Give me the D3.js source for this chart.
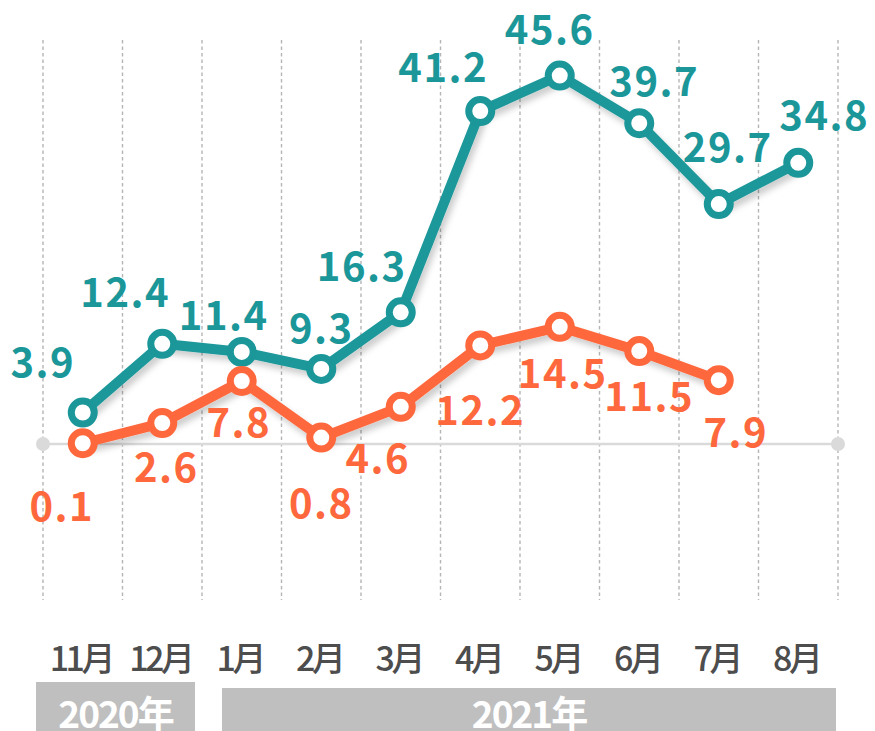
<!DOCTYPE html>
<html>
<head>
<meta charset="utf-8">
<script src="https://cdn.jsdelivr.net/npm/d3@7"></script>
<style>
  body { margin: 0; background: #fff; }
  #chart { width: 875px; height: 731px; }
  text { font-family: "Noto Sans CJK JP", "Noto Sans", sans-serif; }
</style>
</head>
<body>
<div id="chart"></div>
<script>
// data
const months = ["11月", "12月", "1月", "2月", "3月", "4月", "5月", "6月", "7月", "8月"];
const tealValues = [3.9, 12.4, 11.4, 9.3, 16.3, 41.2, 45.6, 39.7, 29.7, 34.8];
const orangeValues = [0.1, 2.6, 7.8, 0.8, 4.6, 12.2, 14.5, 11.5, 7.9];
const years = ["2020年", "2021年"];
const yearMonths = [["11月", "12月"], ["1月", "8月"]];

// label placement (offset from point, px)
const tealLabelOffset = [[-40, -36], [-37, -37], [-18, -22], [0, -26], [-39, -31],
    [-37, -29], [-10, -32], [15, -27], [9, -42], [26, -33]];
const orangeLabelOffset = [[-21, 78], [4, 59], [-3, 56], [0, 80], [-23, 66],
    [0, 80], [3, 61], [10, 60], [17, 67]];

const teal = "#1b979a";
const orange = "#ff683d";

const width = 875, height = 731;

const svg = d3.select("#chart")
    .append("svg")
    .attr("width", width)
    .attr("height", height);

// shadow under the lines
const defs = svg.append("defs");
defs.append("filter")
    .attr("id", "shadow")
    .attr("x", "-20%").attr("y", "-20%")
    .attr("width", "140%").attr("height", "160%")
    .append("feDropShadow")
    .attr("dx", 3).attr("dy", 5)
    .attr("stdDeviation", 3)
    .attr("flood-color", "#000")
    .attr("flood-opacity", 0.2);

// scales
const x = d3.scaleBand()
    .domain(months)
    .range([43, 838]);

const y = d3.scaleLinear()
    .domain([-19.3, 50])
    .range([600, 40]);

const cx = d => x(d) + x.bandwidth() / 2;

// vertical dashed gridlines at band edges
const edges = months.map(m => x(m)).concat([x.range()[1]]);
svg.append("g")
    .selectAll("line")
    .data(edges)
    .enter().append("line")
    .attr("x1", d => d).attr("x2", d => d)
    .attr("y1", y(50)).attr("y2", y(-19.3))
    .attr("stroke", "#b5b5b5")
    .attr("stroke-width", 1.4)
    .attr("stroke-dasharray", "3.5,3");

// zero baseline
svg.append("line")
    .attr("x1", x.range()[0]).attr("x2", x.range()[1])
    .attr("y1", y(0)).attr("y2", y(0))
    .attr("stroke", "#dadada")
    .attr("stroke-width", 2.5);

svg.selectAll(".enddot")
    .data(x.range())
    .enter().append("circle")
    .attr("class", "enddot")
    .attr("cx", d => d)
    .attr("cy", y(0))
    .attr("r", 7)
    .attr("fill", "#dadada");

// month axis
const xAxis = svg.append("g")
    .attr("transform", "translate(0,671)")
    .call(d3.axisBottom(x).tickSize(0).tickPadding(0));
xAxis.select(".domain").remove();
xAxis.selectAll("text")
    .attr("dy", 0)
    .attr("x", -2)
    .style("font-size", "34px")
    .style("font-weight", 500)
    .style("letter-spacing", "-3.5px")
    .attr("fill", "#4d4d4d")
    .style("font-family", "'Noto Sans CJK JP', sans-serif");

// year bars
const yearBars = [
    { name: years[0], x0: x(yearMonths[0][0]) - 7, x1: x(yearMonths[0][1]) + x.bandwidth() - 7, top: 682 },
    { name: years[1], x0: x(yearMonths[1][0]) + 20, x1: x(yearMonths[1][1]) + x.bandwidth() - 2, top: 688 }
];
const yb = svg.append("g").selectAll("g")
    .data(yearBars)
    .enter().append("g");
yb.append("rect")
    .attr("x", d => d.x0)
    .attr("y", d => d.top)
    .attr("width", d => d.x1 - d.x0)
    .attr("height", d => height - d.top)
    .attr("fill", "#bfbfbf");
yb.append("text")
    .attr("x", d => (d.x0 + d.x1) / 2)
    .attr("y", 728)
    .attr("text-anchor", "middle")
    .attr("font-size", 37)
    .attr("font-weight", 700)
    .attr("letter-spacing", -2)
    .attr("fill", "#fff")
    .text(d => d.name);

// series
function drawSeries(values, color, offsets) {
    const pts = values.map((v, i) => ({ m: months[i], v: v, off: offsets[i] }));
    const line = d3.line()
        .x(d => cx(d.m))
        .y(d => y(d.v));

    const g = svg.append("g");
    g.append("path")
        .datum(pts)
        .attr("d", line)
        .attr("fill", "none")
        .attr("stroke", color)
        .attr("stroke-width", 10)
        .attr("stroke-linejoin", "round")
        .attr("filter", "url(#shadow)");

    g.selectAll("circle")
        .data(pts)
        .enter().append("circle")
        .attr("cx", d => cx(d.m))
        .attr("cy", d => y(d.v))
        .attr("r", 11.5)
        .attr("fill", "#fff")
        .attr("stroke", color)
        .attr("stroke-width", 7);

    g.selectAll("text")
        .data(pts)
        .enter().append("text")
        .attr("x", d => cx(d.m) + d.off[0])
        .attr("y", d => y(d.v) + d.off[1])
        .attr("text-anchor", "middle")
        .attr("font-size", 40)
        .attr("font-weight", 700)
        .attr("letter-spacing", 1.5)
        .attr("fill", color)
        .text(d => d.v.toFixed(1));
}

drawSeries(tealValues, teal, tealLabelOffset);
drawSeries(orangeValues, orange, orangeLabelOffset);
</script>
</body>
</html>
